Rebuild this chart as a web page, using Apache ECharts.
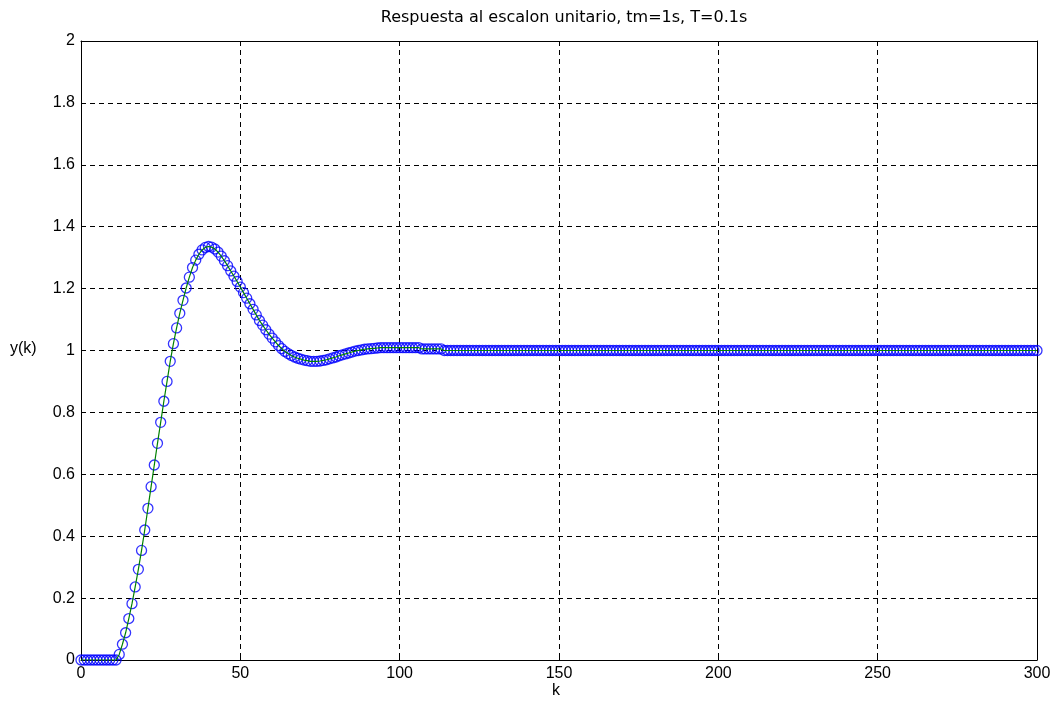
<!DOCTYPE html>
<html>
<head>
<meta charset="utf-8">
<script src="https://cdn.jsdelivr.net/npm/echarts@6/dist/echarts.min.js"></script>
<style>
html,body{margin:0;padding:0;background:#fff;}
#chart{width:1057px;height:712px;}
</style>
</head>
<body>
<div id="chart"></div>
<script>
var titleText = 'Respuesta al escalon unitario, tm=1s, T=0.1s';
var xLabel = 'k';
var yLabel = 'y(k)';
var xTicks = [0, 50, 100, 150, 200, 250, 300];
var yTicks = [0, 0.2, 0.4, 0.6, 0.8, 1, 1.2, 1.4, 1.6, 1.8, 2];

// y(k) for k = 0 .. 300
var yValues = [
  0, 0, 0, 0, 0, 0, 0, 0, 0, 0, 0, 0,
  0.018, 0.051, 0.088, 0.134, 0.182, 0.236, 0.293, 0.354, 0.420, 0.490,
  0.560, 0.630, 0.700, 0.768, 0.836, 0.900, 0.965, 1.022, 1.073, 1.120,
  1.162, 1.202, 1.237, 1.268, 1.292, 1.311, 1.325, 1.333, 1.336, 1.334,
  1.328, 1.318, 1.305, 1.290, 1.274, 1.257, 1.240, 1.223, 1.205, 1.187,
  1.169, 1.151, 1.133, 1.115, 1.097, 1.082, 1.067, 1.053, 1.040, 1.028,
  1.016, 1.006, 0.997, 0.990, 0.984, 0.979, 0.975, 0.972, 0.969, 0.967,
  0.965, 0.965, 0.965, 0.966, 0.968, 0.970, 0.973, 0.976, 0.979, 0.983,
  0.986, 0.989, 0.992, 0.995, 0.998, 1.000, 1.002, 1.004, 1.005, 1.006,
  1.007, 1.008,
  1.009, 1.009, 1.009, 1.009, 1.009, 1.009, 1.009, 1.009, 1.009, 1.009,
  1.009, 1.009, 1.009,
  1.005, 1.005, 1.005, 1.005, 1.005, 1.005, 1.005,
  1, 1, 1, 1, 1, 1, 1, 1, 1, 1, 1, 1, 1, 1, 1, 1, 1, 1, 1, 1,
  1, 1, 1, 1, 1, 1, 1, 1, 1, 1, 1, 1, 1, 1, 1, 1, 1, 1, 1, 1,
  1, 1, 1, 1, 1, 1, 1, 1, 1, 1, 1, 1, 1, 1, 1, 1, 1, 1, 1, 1,
  1, 1, 1, 1, 1, 1, 1, 1, 1, 1, 1, 1, 1, 1, 1, 1, 1, 1, 1, 1,
  1, 1, 1, 1, 1, 1, 1, 1, 1, 1, 1, 1, 1, 1, 1, 1, 1, 1, 1, 1,
  1, 1, 1, 1, 1, 1, 1, 1, 1, 1, 1, 1, 1, 1, 1, 1, 1, 1, 1, 1,
  1, 1, 1, 1, 1, 1, 1, 1, 1, 1, 1, 1, 1, 1, 1, 1, 1, 1, 1, 1,
  1, 1, 1, 1, 1, 1, 1, 1, 1, 1, 1, 1, 1, 1, 1, 1, 1, 1, 1, 1,
  1, 1, 1, 1, 1, 1, 1, 1, 1, 1, 1, 1, 1, 1, 1, 1, 1, 1, 1, 1,
  1, 1, 1, 1, 1, 1, 1
];

var pts = yValues.map(function (v, i) { return [i, v]; });

var FONT = '"Liberation Sans", Arial, sans-serif';
var TFONT = '"DejaVu Sans", "Liberation Sans", sans-serif';
var chart = echarts.init(document.getElementById('chart'), null, {renderer: 'canvas'});

var gridStyle = {show: true, lineStyle: {color: '#000', width: 1, type: [5, 4]}};
var tickIn = {show: true, inside: true, length: 5, lineStyle: {color: '#000'}};

chart.setOption({
  animation: false,
  backgroundColor: '#fff',
  title: {
    text: titleText, left: 559, top: 5, textAlign: 'center',
    textStyle: {fontFamily: TFONT, fontSize: 16, fontWeight: 'normal', color: '#000'}
  },
  grid: {left: 81, right: 20, top: 41, bottom: 52, containLabel: false},
  xAxis: [{
    type: 'value', min: xTicks[0], max: xTicks[xTicks.length - 1], interval: 50,
    axisLine: {show: true, lineStyle: {color: '#000'}},
    axisTick: tickIn,
    axisLabel: {color: '#000', fontFamily: FONT, fontSize: 16, margin: 6},
    splitLine: gridStyle
  }, {
    type: 'value', position: 'top', min: xTicks[0], max: xTicks[xTicks.length - 1], interval: 50,
    axisLine: {show: true, onZero: false, lineStyle: {color: '#000'}},
    axisTick: tickIn, axisLabel: {show: false}, splitLine: {show: false}
  }],
  yAxis: [{
    type: 'value', min: yTicks[0], max: yTicks[yTicks.length - 1], interval: 0.2,
    axisLine: {show: true, lineStyle: {color: '#000'}},
    axisTick: tickIn,
    axisLabel: {color: '#000', fontFamily: FONT, fontSize: 16, margin: 6},
    splitLine: gridStyle
  }, {
    type: 'value', position: 'right', min: yTicks[0], max: yTicks[yTicks.length - 1], interval: 0.2,
    axisLine: {show: true, onZero: false, lineStyle: {color: '#000'}},
    axisTick: tickIn, axisLabel: {show: false}, splitLine: {show: false}
  }],
  graphic: [
    {type: 'text', left: 10, top: 341, style: {text: yLabel, font: '16px ' + FONT, fill: '#000'}},
    {type: 'text', left: 552, top: 683, style: {text: xLabel, font: '16px ' + FONT, fill: '#000'}}
  ],
  series: [{
    type: 'scatter', data: pts, symbol: 'circle', symbolSize: 10,
    itemStyle: {color: 'rgba(0,0,0,0)', borderColor: '#0000ff', borderWidth: 1.3},
    z: 2
  }, {
    type: 'line', data: pts, showSymbol: false, symbol: 'none',
    lineStyle: {color: '#008000', width: 1.2}, z: 3
  }]
});
</script>
</body>
</html>
